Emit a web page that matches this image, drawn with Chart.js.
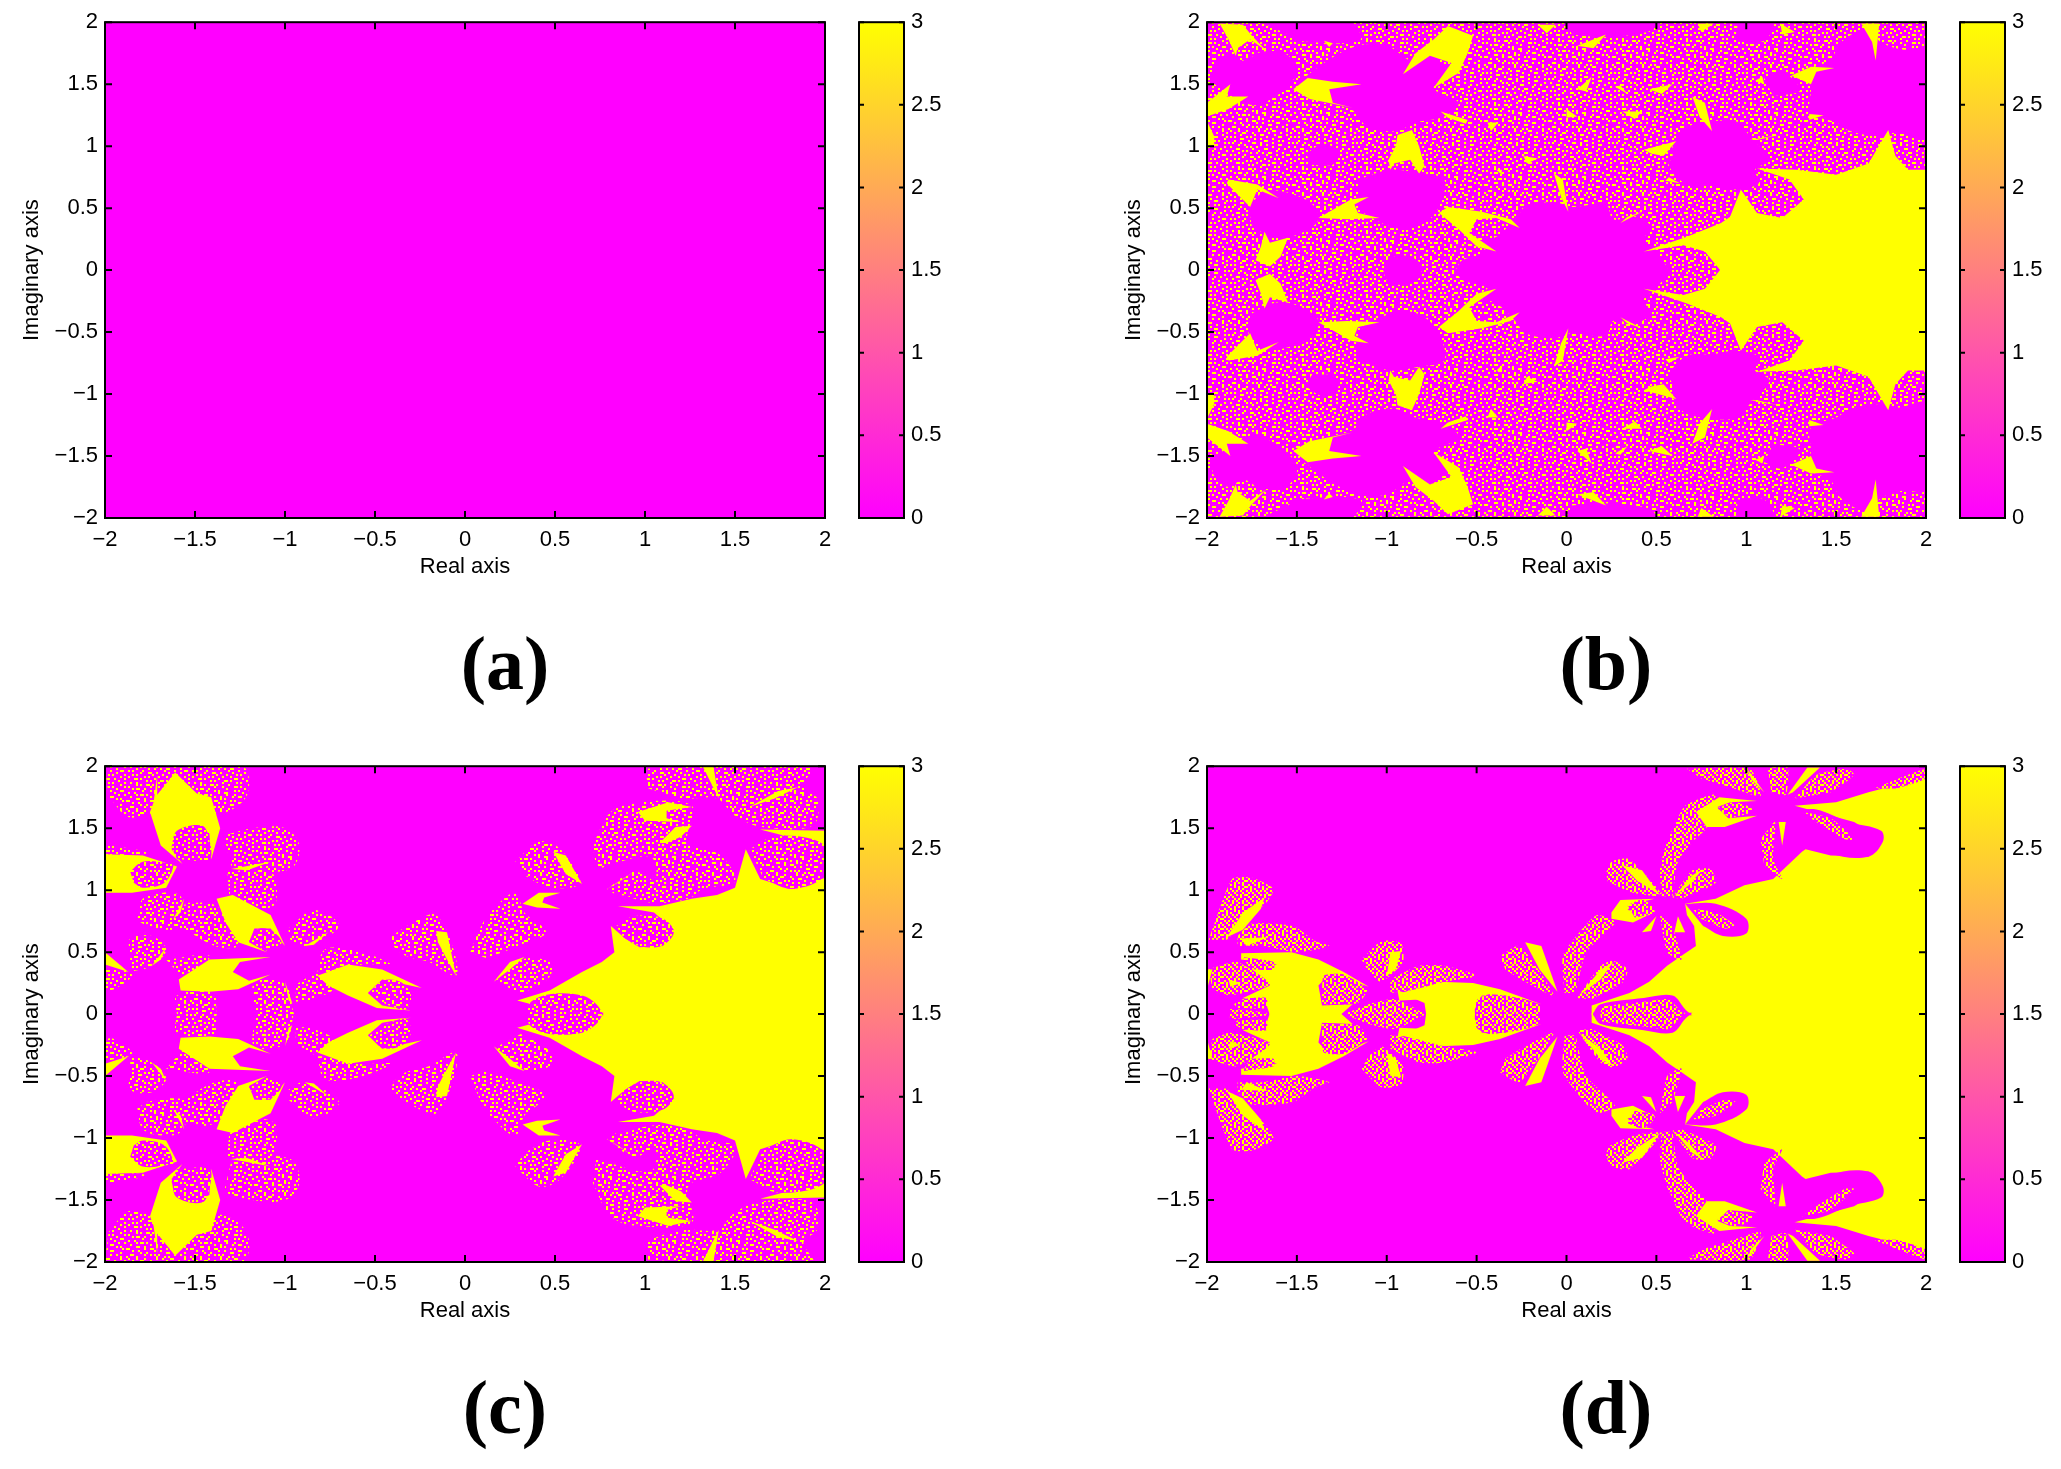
<!DOCTYPE html>
<html>
<head>
<meta charset="utf-8">
<title>Basins of attraction</title>
<script src="https://cdn.jsdelivr.net/npm/chart.js@4"></script>
<style>
body { margin: 0; background: #fff; }
canvas { position: absolute; }
.tag { position: absolute; width: 200px; text-align: center; font: bold 76px "Liberation Serif", serif; color: #000; line-height: 90px; }
</style>
</head>
<body>
<script>
// axis ticks
var axisTicks = [-2, -1.5, -1, -0.5, 0, 0.5, 1, 1.5, 2];
var axisLabels = ["\u22122", "\u22121.5", "\u22121", "\u22120.5", "0", "0.5", "1", "1.5", "2"];
var barTicks = [0, 0.5, 1, 1.5, 2, 2.5, 3];
var barLabels = ["0", "0.5", "1", "1.5", "2", "2.5", "3"];
var barRange = [0, 3];
var panelNames = ["(a)", "(b)", "(c)", "(d)"];

// regions, flat x,y lists in axis units.
// the figures are symmetric about the real axis, so only the upper half is listed
// and every region is drawn a second time with y flipped
var fullDomain = [[-2, -2, 2, -2, 2, 2, -2, 2]];

var bMagenta = [
  [.57,-.01,.57,0,.5,.15,.43,.24,.47,.35,.38,.43,.26,.41,.22,.53,.03,.51,-.07,.55,-.23,.51,-.28,.42,-.39,.27,-.5,.22,-.44,.14,-.58,.08,-.62,-.01],
  [.59,1.03,.67,1.16,.94,1.2,1.02,1.08,1.13,.89,1.05,.81,1.07,.7,.94,.65,.81,.68,.67,.69,.57,.84,.59,.92],
  [1.34,1.62,1.47,1.7,1.52,1.83,1.66,1.94,1.76,1.83,1.87,1.78,2,1.77,2,1.08,1.84,1.11,1.74,1.08,1.58,1.12,1.5,1.19,1.36,1.27,1.36,1.46],
  [-1.97,1.64,-1.88,1.75,-1.8,1.69,-1.7,1.76,-1.57,1.75,-1.5,1.64,-1.53,1.51,-1.62,1.4,-1.73,1.33,-1.83,1.38,-1.9,1.45,-1.97,1.51],
  [-1.49,1.52,-1.32,1.7,-1.16,1.81,-1,1.81,-.84,1.67,-.76,1.73,-.66,1.59,-.74,1.47,-.6,1.35,-.68,1.24,-.84,1.19,-.95,1.12,-1.11,1.16,-1.19,1.29,-1.35,1.35],
  [-1.16,.73,-.98,.81,-.82,.78,-.68,.73,-.71,.51,-.79,.38,-.9,.33,-1.03,.38,-1.16,.49],
  [-1.77,.51,-1.67,.64,-1.48,.59,-1.39,.49,-1.39,.38,-1.53,.27,-1.64,.27,-1.75,.35],
  [-1.02,-.01,-1,.08,-.92,.12,-.83,.08,-.8,-.01],
  [-1.45,.94,-1.35,1.02,-1.27,.95,-1.3,.85,-1.42,.85],
  [1.1,1.55,1.2,1.6,1.3,1.45,1.15,1.4],
  [-1.7,2,-1.2,2,-1.15,1.85,-1.5,1.85,-1.55,1.9],
  [0,2,.5,2,.45,1.92,.2,1.88,.03,1.9],
  [.95,2,1.15,2,1.1,1.85,.95,1.85]
];
var bYellow = [
  [.86,-.01,.81,.08,.77,.15,.65,.2,.43,.15,.67,.27,.86,.38,.91,.43,.97,.65,1.06,.46,1.2,.42,1.32,.57,1.24,.73,1.06,.82,1.28,.81,1.5,.77,1.68,.86,1.79,1.13,1.83,.92,1.9,.81,2,.81,2,-.01],
  [-1.93,1.99,-1.8,1.98,-1.75,1.89,-1.67,1.77,-1.76,1.86,-1.83,1.79,-1.84,1.73,-1.88,1.86],
  [-.66,1.97,-.52,1.89,-.55,1.75,-.6,1.59,-.74,1.47,-.64,1.67,-.76,1.73,-.91,1.58,-.84,1.75,-.74,1.86],
  [-1.14,1.5,-1.3,1.52,-1.44,1.55,-1.52,1.46,-1.43,1.38,-1.19,1.31,-1.3,1.35,-1.32,1.46],
  [-2,1.24,-2,1.35,-1.87,1.5,-1.89,1.4,-1.77,1.4,-1.88,1.3],
  [-2,1.2,-1.96,1.08,-1.96,1.01,-2,1],
  [-.94,1.09,-.86,1.13,-.82,1,-.79,.84,-.82,.78,-.87,.89,-.96,.86,-.98,.81,-.99,.89,-.95,1],
  [-1.88,.73,-1.72,.69,-1.6,.58,-1.72,.65,-1.76,.51,-1.83,.61,-1.89,.7],
  [-1.1,.59,-1.2,.57,-1.38,.42,-1.22,.41,-1.04,.42,-1.16,.46,-1.18,.53],
  [-.66,.51,-.47,.47,-.31,.41,-.26,.34,-.39,.42,-.5,.41,-.54,.3,-.39,.15,-.5,.19,-.6,.33,-.71,.46],
  [-1.68,.31,-1.65,.22,-1.55,.26,-1.59,.11,-1.65,.03,-1.73,.08,-1.7,.19],
  [-.07,.78,-.02,.73,.01,.47,-.03,.59],
  [.7,1.4,.77,1.35,.81,1.12,.74,1.24],
  [.43,.97,.61,1.04,.54,.92,.47,.94],
  [1.49,1.63,1.36,1.64,1.25,1.57,1.36,1.5,1.39,1.6],
  [1.64,1.99,1.74,1.99,1.72,1.69,1.7,1.84],
  [.06,1.81,.22,1.9,.15,1.79],
  [.06,1.46,.14,1.56,.11,1.44],
  [.46,1.46,.59,1.5,.53,1.42],
  [.27,1.48,.34,1.42,.3,1.49],
  [-.7,1.28,-.55,1.21,-.56,1.18,-.66,1.23],
  [-.44,1.19,-.38,1.19,-.42,1.12],
  [-.16,1.98,-.06,1.98,-.11,1.91],
  [.73,1.99,.82,1.99,.75,1.92],
  [1.19,1.99,1.27,1.92,1.2,1.9],
  [-1.35,1.85,-1.3,1.83,-1.32,1.8],
  [0,1.3,.06,1.24,0,1.23],
  [.31,1.28,.42,1.28,.38,1.22],
  [.55,.72,.63,.7,.57,.75],
  [.3,.38,.42,.47,.34,.43],
  [-.24,.92,-.16,.9,-.22,.86],
  [-.39,.81,-.36,.81,-.36,.77],
  [1.35,1.26,1.43,1.25,1.35,1.21],
  [1.02,1.05,1.18,1.09,1.06,1.05],
  [1.05,1.53,1.09,1.56,1.1,1.5]
];

var cSpeckle = [
  [-.41,.63,-.25,.77,-.16,.8,-.07,.55,-.05,.31,-.2,.42,-.33,.47,-.4,.55],
  [.03,.5,.09,.71,.16,.85,.28,.98,.33,.82,.45,.66,.31,.56,.12,.45],
  [.17,.27,.31,.44,.47,.42,.47,.3,.31,.16],
  [.28,1.23,.41,1.39,.53,1.33,.64,1.06,.47,1.02,.33,1.12],
  [.79,1.01,.94,1.15,1.06,1.04,1,.96,.84,.96],
  [.71,1.36,.81,1.63,.97,1.71,1.26,1.68,1.24,1.39,1.42,1.28,1.5,1.07,1.32,1.01,1.24,.93,1.03,.9,.84,1.01,1.05,1.07,1.03,1.27,.73,1.17],
  [1,1.98,1.34,2,1.93,2,1.88,1.84,1.96,1.73,1.93,1.52,1.65,1.51,1.5,1.6,1.4,1.74,1.21,1.74,1.02,1.82],
  [-2,2,-1.24,2,-1.21,1.77,-1.35,1.62,-1.73,1.62,-1.87,1.59,-1.98,1.76],
  [-1.34,1.44,-1.18,1.5,-1,1.5,-.92,1.36,-.97,1.17,-1.26,1.16,-1.3,1.2],
  [-2,1.37,-1.76,1.3,-2,1.28],
  [-1.82,.76,-1.79,.93,-1.68,.98,-1.58,.95,-1.55,.71,-1.66,.68,-1.77,.71],
  [-1.32,1.15,-1.08,1.15,-1.05,.9,-1.13,.85,-1.31,.96],
  [-1.55,.9,-1.39,.88,-1.29,.69,-1.26,.55,-1.39,.55,-1.58,.71],
  [-.98,.69,-.84,.84,-.7,.71,-.89,.55,-.98,.61],
  [-.82,.34,-.78,.52,-.62,.52,-.41,.4,-.57,.4,-.76,.34],
  [-1.86,.47,-1.86,.61,-1.74,.63,-1.66,.52,-1.74,.39,-1.86,.34],
  [-1.66,.44,-1.42,.47,-1.55,.26],
  [-1.6,-.01,-1.6,.15,-1.4,.17,-1.38,-.01],
  [-1.16,-.01,-1.17,.26,-1,.24,-.95,-.01],
  [-.94,.24,-.8,.34,-.72,.22,-.84,.12,-.94,.1],
  [-2,.38,-1.85,.32,-1.95,.2,-2,.2]
];
var cYellow = [
  [.6,-.01,.29,.11,.47,.19,.65,.34,.76,.42,.83,.5,.81,.71,.89,.61,.97,.54,1.1,.55,1.16,.68,1.05,.82,.85,.87,1.08,.87,1.26,.93,1.4,.96,1.5,1.02,1.56,1.33,1.64,1.09,1.82,1.01,2,1.1,2,-.01],
  [1.64,1.49,2,1.48,2,1.28,1.9,1.39,1.77,1.44],
  [-.82,.31,-.65,.4,-.46,.36,-.24,.21,-.46,.28,-.54,.17,-.46,.07,-.3,.03,-.49,.05,-.65,.15,-.76,.23],
  [-.16,.67,-.1,.66,-.05,.31,-.1,.44,-.15,.58],
  [.16,.26,.25,.42,.33,.46,.25,.36],
  [.32,.89,.41,.98,.53,.98,.44,.94,.43,.9,.53,.85,.4,.86],
  [.49,1.31,.56,1.28,.65,1.05,.56,1.13],
  [.79,1.01,.94,1.15,.85,1.06],
  [.96,1.63,1.13,1.71,1.26,1.67,1.12,1.64,1.12,1.58,1.2,1.55,1,1.56],
  [1.08,1.38,1.17,1.51,1.26,1.52,1.2,1.43,1.12,1.38],
  [1.32,2,1.38,2,1.41,1.74],
  [1.58,1.67,1.74,1.8,1.85,1.83,1.72,1.74],
  [-1.71,1.93,-1.71,1.77,-1.61,1.95,-1.49,1.78,-1.41,1.75,-1.36,1.5,-1.41,1.25,-1.42,1.46,-1.51,1.51,-1.61,1.44,-1.63,1.33,-1.57,1.21,-1.69,1.36,-1.75,1.63,-1.73,1.71],
  [-1.3,1.17,-1.08,1.23,-1.21,1.16],
  [-2,1.29,-1.79,1.28,-1.6,1.19,-1.66,1.02,-1.85,.98,-2,.98],
  [-1.62,.77,-1.56,.93,-1.58,.82],
  [-1.38,.93,-1.29,.96,-1.08,.8,-1,.55,-1.08,.69,-1.17,.69,-1.2,.58,-1.1,.5,-1.26,.58,-1.33,.74],
  [-.89,.55,-.76,.66,-.84,.56],
  [-1.74,.39,-1.66,.54,-1.69,.44],
  [-1.59,.28,-1.42,.44,-1.08,.46,-1.25,.42,-1.29,.34,-1.2,.27,-1.08,.32,-1.26,.2,-1.42,.18,-1.58,.19],
  [-2,.5,-1.87,.34,-2,.4],
  [-1,.26,-.96,.09,-.98,.11]
];
var cInner = [
  [.35,-.01,.36,.09,.47,.16,.65,.15,.73,.08,.77,-.01],
  [.84,.71,.94,.79,1.1,.77,1.16,.66,1.09,.55,.97,.55,.88,.62],
  [1.58,1.33,1.74,1.44,2,1.36,2,1.12,1.82,1.01,1.66,1.09],
  [-.53,.17,-.46,.27,-.36,.26,-.3,.15,-.33,.04,-.44,.08],
  [-1.63,1.35,-1.6,1.48,-1.46,1.52,-1.42,1.4,-1.42,1.25,-1.6,1.25],
  [-1.86,1.15,-1.79,1.23,-1.66,1.22,-1.62,1.2,-1.67,1.06,-1.79,1.02,-1.84,1.06],
  [-1.2,.59,-1.14,.69,-1.06,.66,-1.02,.57,-1.11,.51]
];

var dYellow = [
  [.14,.07,.35,.17,.46,.26,.56,.39,.64,.47,.72,.55,.71,.71,.67,.8,.66,.89,.83,.93,.99,1.04,1.15,1.09,1.31,1.31,1.33,1.33,1.47,1.28,1.68,1.27,1.76,1.41,1.6,1.55,1.27,1.68,1.5,1.71,1.68,1.79,1.87,1.86,2,1.93,2,-.01,.14,-.01],
  [-.78,-.01,-.79,.09,-.92,.17,-.71,.26,-.52,.25,-.37,.2,-.14,.08,-.34,.15,-.47,.15,-.51,.04,-.51,-.01],
  [-1.81,.49,-1.53,.5,-1.38,.44,-1.24,.34,-1.1,.22,-1.22,.28,-1.32,.32,-1.38,.23,-1.36,.07,-1.19,.08,-1.26,-.01,-1.65,-.01,-1.67,.08,-1.8,.13,-1.65,.23,-1.75,.36,-1.61,.4,-1.81,.44]
];
var dMagenta = [
  [.15,-.01,.15,.01,.19,.08,.43,.13,.59,.15,.66,.04,.7,-.01],
  [.66,.89,.83,.89,1,.77,1,.65,.87,.63,.76,.71],
  [1.27,1.64,1.39,1.65,1.57,1.55,1.75,1.48,1.76,1.39,1.68,1.27,1.47,1.3,1.36,1.47]
];
var dSpeckle = [
  [.19,.02,.2,.06,.43,.1,.57,.12,.63,.03,.66,-.01,.19,-.01],
  [-.5,-.01,-.5,.11,-.43,.16,-.23,.12,-.15,.07,-.15,-.01],
  [-.37,.47,-.26,.55,-.07,.15,-.23,.26,-.34,.36],
  [-.01,.17,-.02,.47,.09,.69,.17,.8,.27,.74,.11,.5,.05,.17],
  [.06,.13,.19,.39,.26,.43,.34,.36,.31,.25,.14,.12],
  [-1.36,.2,-1.35,.31,-1.24,.32,-1.11,.2,-1.16,.09,-1.36,.08],
  [-1.14,.44,-1.03,.59,-.92,.57,-.91,.42,-1.03,.26,-1.1,.34],
  [-.98,.28,-.82,.39,-.68,.39,-.5,.31,-.68,.26,-.84,.2,-.98,.17],
  [-1.22,.01,-1.1,.08,-.95,.12,-.79,-.01,-1.22,-.01],
  [-1.99,.6,-1.86,1.09,-1.75,1.1,-1.63,1.01,-1.67,.9,-1.89,.6],
  [-1.83,.63,-1.75,.73,-1.52,.71,-1.4,.59,-1.32,.55,-1.5,.5,-1.69,.55,-1.83,.55],
  [-1.8,.46,-1.63,.42,-1.63,.36,-1.76,.36],
  [-1.99,.36,-1.93,.39,-1.83,.42,-1.65,.24,-1.87,.15,-1.97,.2],
  [-1.85,.08,-1.8,.12,-1.67,.13,-1.67,.05,-1.83,.05],
  [-1.87,-.01,-1.87,.04,-1.67,.01,-1.67,-.01],
  [.22,1.14,.25,1.23,.35,1.25,.53,.96,.37,.98,.23,1.07],
  [.59,.94,.7,1.16,.8,1.17,.83,1.06,.64,.93],
  [.53,.95,.52,1.17,.56,1.39,.64,1.58,.78,1.51,.7,1.39,.62,1.23,.59,.95],
  [.52,.8,.56,.5,.64,.44,.59,.71],
  [.7,.85,.83,.82,.94,.71,.88,.69,.75,.77],
  [.67,1.98,1.02,1.98,1.08,1.76,.91,1.83,.75,1.9],
  [1.12,1.99,1.23,1.99,1.22,1.77,1.14,1.79],
  [1.27,1.74,1.39,1.93,1.56,1.98,1.6,1.93,1.47,1.79],
  [.56,1.39,.66,1.68,.83,1.77,.75,1.55,.7,1.39],
  [1.31,1.63,1.47,1.58,1.6,1.41,1.55,1.41,1.39,1.55],
  [1.08,1.41,1.16,1.55,1.15,1.25,1.2,1.09,1.1,1.2],
  [1.71,1.82,2,1.98,2,1.9,1.84,1.82]
];
var dSpikes = [
  [-.23,.58,-.14,.55,-.05,.18,-.15,.36],
  [.07,.15,.19,.36,.26,.42,.19,.28],
  [-1,.31,-.98,.5,-.92,.51,-.95,.36],
  [-.94,.19,-.78,.12,-.93,.11],
  [-1.89,.62,-1.8,.82,-1.68,.94,-1.7,.85,-1.8,.68],
  [-1.81,.61,-1.66,.62,-1.78,.55],
  [-1.88,.28,-1.81,.25,-1.87,.22],
  [-2,.36,-1.97,.36,-2,.2],
  [.31,1.2,.42,1.16,.52,.96,.39,1.08],
  [.6,.95,.7,1.12,.76,1.17,.68,1.04],
  [.25,.82,.3,.92,.49,.93,.37,.89,.34,.84,.47,.81,.37,.74,.25,.77],
  [.42,.66,.5,.79,.47,.67],
  [.6,.66,.62,.79,.66,.66],
  [1,1.99,1.1,1.79,1.03,1.89],
  [1.23,1.77,1.34,1.99,1.41,1.99,1.26,1.79],
  [.72,1.63,.85,1.75,1.06,1.72,.91,1.71,.84,1.67,.9,1.58,1.06,1.6,.88,1.51,.78,1.51],
  [1.18,1.55,1.22,1.55,1.2,1.36]
];
var dInner = [
  [.34,.88,.43,.92,.49,.82,.38,.78],
  [.84,1.66,.94,1.71,1.04,1.64,.91,1.58]
];

// texture for the mixed magenta/yellow areas
var speckleTile = [
  "y...y...y.....y..y...yy.....y...",
  "..y...yy...y.......y.....y....y.",
  ".....y......y..yy.....y.....y...",
  "y.y.....y.y.......y.....yy....y.",
  ".....yy.....y..y.....y.......y..",
  "..y......y.......yy.....y.y.....",
  ".y...y.....yy..y.....y.......y.y",
  "....y..y.......y..y.....yy......",
  "y.......y.y..y.......y.......y..",
  "...yy......y.....yy.....y..y....",
  ".y....y.y.....y........y......y.",
  "....y.....y..y..y..yy.....y.....",
  "y.y....y..........y....y....yy..",
  "......y...yy..y.....y.....y.....",
  "..y.y.......y....y....y.y.....y.",
  "y.......y.y....y...y........y...",
  "...yy.y......y.......yy..y....y.",
  ".........y.y....yy.y.......y....",
  ".y..y..........y......y.y.....y.",
  "....y.y..yy.y.....y.........y...",
  "y..........y...y.....yy.y.....y.",
  "..y.yy..y........y........y.....",
  ".......y...y.y.......y.y....yy..",
  "y..y.........y..yy.......y......",
  "....y.yy.y.......y...y.....y..y.",
  ".y.........y..y.....y..yy.......",
  "....yy..y.....y.y.........y.y...",
  "y.......y..yy......y.y.......y.y",
  "..y..y.......y..y......yy.......",
  "......y..y.........yy.......y...",
  ".yy.....y..y.y.y.......y..y.....",
  "....y.........y...y.y.......y..y"
];
var denseTile = [
  "y.y..y.y.y..",
  ".y.y..y...y.",
  "y...y..y.y.y",
  ".y.y.y...y..",
  "..y...y.y..y",
  "y..y.y.y..y.",
  ".y...y..y.y.",
  "y.y.y..y...y",
  "...y..y.y.y.",
  ".y..y.y...y.",
  "y.y...y.y..y",
  "..y.y...y.y."
];

var magenta = "#ff00ff";
var yellow = "#ffff00";

function makeTile(rows, cell) {
  var c = document.createElement("canvas");
  c.width = rows[0].length * cell;
  c.height = rows.length * cell;
  var g = c.getContext("2d");
  g.fillStyle = magenta;
  g.fillRect(0, 0, c.width, c.height);
  g.fillStyle = yellow;
  rows.forEach(function (row, j) {
    for (var i = 0; i < row.length; i++) {
      if (row[i] === "y") g.fillRect(i * cell, j * cell, cell, cell);
    }
  });
  return g.createPattern(c, "repeat");
}

var speckle = makeTile(speckleTile, 2);
var dense = makeTile(denseTile, 2);

function toPoints(flat, sign) {
  var pts = [];
  for (var i = 0; i < flat.length; i += 2) {
    pts.push({ x: flat[i], y: flat[i + 1] * sign });
  }
  return pts;
}

// paint order goes bottom to top, Chart.js draws the last dataset first
// third layer item is the line tension, rounds the lobes and leaves the spikes sharp
function buildDatasets(layers) {
  var sets = [];
  layers.forEach(function (layer) {
    var shapes = layer[0], fillStyle = layer[1], tension = layer[2] || 0;
    shapes.forEach(function (flat) {
      [1, -1].forEach(function (sign) {
        sets.push({
          data: toPoints(flat, sign),
          showLine: true,
          fill: "shape",
          backgroundColor: fillStyle,
          borderWidth: 0,
          pointRadius: 0,
          tension: tension
        });
      });
    });
  });
  return sets.reverse();
}

function drawBox(chart, tickLen) {
  var ctx = chart.ctx, a = chart.chartArea;
  ctx.save();
  ctx.strokeStyle = "#000";
  ctx.lineWidth = 2;
  ctx.strokeRect(a.left, a.top, a.right - a.left, a.bottom - a.top);
  ctx.beginPath();
  var sx = chart.scales.x, sy = chart.scales.y;
  if (sx.type === "linear") {
    axisTicks.forEach(function (v) {
      var px = sx.getPixelForValue(v);
      ctx.moveTo(px, a.bottom); ctx.lineTo(px, a.bottom - tickLen);
      ctx.moveTo(px, a.top); ctx.lineTo(px, a.top + tickLen);
    });
  }
  (sx.type === "linear" ? axisTicks : barTicks).forEach(function (v) {
    var py = sy.getPixelForValue(v);
    ctx.moveTo(a.left, py); ctx.lineTo(a.left + tickLen, py);
    ctx.moveTo(a.right, py); ctx.lineTo(a.right - tickLen, py);
  });
  ctx.stroke();
  ctx.restore();
}

function addCanvas(left, top, w, h) {
  var c = document.createElement("canvas");
  c.width = w;
  c.height = h;
  c.style.left = left + "px";
  c.style.top = top + "px";
  document.body.appendChild(c);
  return c;
}

var tickFont = { family: "Liberation Sans", size: 22 };

// padTop has to beat half a tick label plus the tick padding, the layout adds it otherwise
function makePanel(plotLeft, plotTop, plotW, plotH, layers) {
  var yW = 105, xH = 62, padTop = 20, padRight = 16;
  var canvas = addCanvas(plotLeft - yW, plotTop - padTop, yW + plotW + padRight, padTop + plotH + xH);
  new Chart(canvas, {
    type: "scatter",
    data: { datasets: buildDatasets(layers) },
    options: {
      responsive: false,
      animation: false,
      events: [],
      layout: { autoPadding: false, padding: { top: padTop, right: padRight, left: 0, bottom: 0 } },
      plugins: { legend: { display: false }, tooltip: { enabled: false } },
      scales: {
        x: {
          type: "linear", min: -2, max: 2,
          afterBuildTicks: function (s) { s.ticks = axisTicks.map(function (v) { return { value: v }; }); },
          afterFit: function (s) { s.height = xH; },
          grid: { display: false, drawTicks: false },
          border: { display: false },
          ticks: {
            color: "#000", font: tickFont, padding: 9, maxRotation: 0, autoSkip: false,
            callback: function (v) { return axisLabels[axisTicks.indexOf(v)]; }
          },
          title: { display: true, text: "Real axis", color: "#000", font: tickFont, padding: { top: 0, bottom: 0 } }
        },
        y: {
          type: "linear", min: -2, max: 2,
          afterBuildTicks: function (s) { s.ticks = axisTicks.map(function (v) { return { value: v }; }); },
          afterFit: function (s) { s.width = yW; },
          grid: { display: false, drawTicks: false },
          border: { display: false },
          ticks: {
            color: "#000", font: tickFont, padding: 7, autoSkip: false,
            callback: function (v) { return axisLabels[axisTicks.indexOf(v)]; }
          },
          title: { display: true, text: "Imaginary axis", color: "#000", font: tickFont, padding: { top: 19, bottom: 0 } }
        }
      }
    },
    plugins: [{
      id: "box",
      afterDatasetsDraw: function (chart) { drawBox(chart, 7); }
    }]
  });
}

function makeBar(barLeft, plotTop, barW, plotH) {
  var padTop = 20, padBottom = 24, padLeft = 8, yW = 60;
  var canvas = addCanvas(barLeft - padLeft, plotTop - padTop, padLeft + barW + yW, padTop + plotH + padBottom);
  var grad = canvas.getContext("2d").createLinearGradient(0, padTop + plotH, 0, padTop);
  grad.addColorStop(0, magenta);
  grad.addColorStop(1, yellow);
  new Chart(canvas, {
    type: "bar",
    data: {
      labels: ["level"],
      datasets: [{ data: [barRange], backgroundColor: grad, borderWidth: 0, barPercentage: 1, categoryPercentage: 1 }]
    },
    options: {
      responsive: false,
      animation: false,
      events: [],
      layout: { autoPadding: false, padding: { top: padTop, bottom: padBottom, left: padLeft, right: 0 } },
      plugins: { legend: { display: false }, tooltip: { enabled: false } },
      scales: {
        x: { display: false },
        y: {
          position: "right", min: 0, max: 3,
          afterBuildTicks: function (s) { s.ticks = barTicks.map(function (v) { return { value: v }; }); },
          afterFit: function (s) { s.width = yW; },
          grid: { display: false, drawTicks: false },
          border: { display: false },
          ticks: {
            color: "#000", font: tickFont, padding: 7, autoSkip: false,
            callback: function (v) { return barLabels[barTicks.indexOf(v)]; }
          }
        }
      }
    },
    plugins: [{
      id: "box",
      afterDatasetsDraw: function (chart) { drawBox(chart, 5); }
    }]
  });
}

function addTag(text, cx, cy) {
  var d = document.createElement("div");
  d.className = "tag";
  d.textContent = text;
  d.style.left = (cx - 100) + "px";
  d.style.top = (cy - 45) + "px";
  document.body.appendChild(d);
}

makePanel(105, 22, 720, 496, [[fullDomain, magenta]]);
makePanel(1207, 22, 719, 496, [[fullDomain, speckle], [bMagenta, magenta, 0.35], [bYellow, yellow]]);
makePanel(105, 766, 720, 496, [[fullDomain, magenta], [cSpeckle, speckle, 0.35], [cYellow, yellow], [cInner, speckle, 0.35]]);
makePanel(1207, 766, 719, 496, [[fullDomain, magenta], [dYellow, yellow], [dMagenta, magenta, 0.35], [dSpeckle, dense, 0.2], [dSpikes, yellow], [dInner, dense, 0.35]]);

makeBar(859, 22, 45, 496);
makeBar(1960, 22, 45, 496);
makeBar(859, 766, 45, 496);
makeBar(1960, 766, 45, 496);

addTag(panelNames[0], 505, 663);
addTag(panelNames[1], 1606, 663);
addTag(panelNames[2], 505, 1407);
addTag(panelNames[3], 1606, 1407);
</script>
</body>
</html>
